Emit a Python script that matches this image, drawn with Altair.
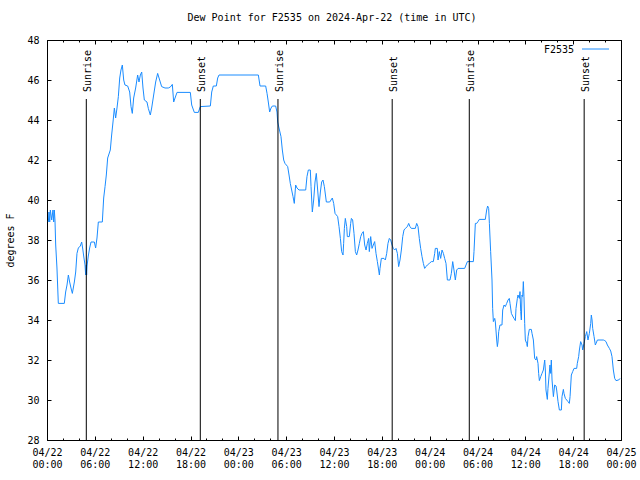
import altair as alt
import pandas as pd

# ---- data (hours since 2024-04-22 00:00 UTC, dew point in F) ----
hours = [0.17, 0.25, 0.34, 0.42, 0.59, 0.75, 0.84, 0.92, 1.0,
         1.09, 1.25, 1.42, 2.17, 2.34, 2.51, 2.68, 2.84, 3.01, 3.18, 3.43, 3.60, 3.76, 3.93, 4.18, 4.35, 4.47, 4.60, 4.77, 4.85, 4.93, 4.97, 5.02, 5.18, 5.35, 5.52, 5.94, 6.10, 6.27, 6.44, 6.94, 7.11, 7.28, 7.44, 7.61, 7.94, 8.11, 8.28, 8.45, 8.61, 8.78, 8.95, 9.12, 9.28, 9.45, 9.62, 9.78, 10.12, 10.37, 10.54, 10.70, 10.87, 11.12, 11.37, 11.54, 11.71, 11.88, 12.04, 12.21, 12.54, 12.71, 12.96, 13.13, 13.38, 13.63, 13.88, 14.13, 14.38, 14.80, 15.22, 15.47, 15.72, 15.89, 16.06, 16.31, 17.98, 18.15, 18.48, 18.98, 19.23,
         20.49, 20.66, 20.86, 21.24, 21.41, 21.58, 26.51, 26.72, 27.43, 27.60, 27.76, 27.93, 28.10, 28.27, 28.68, 28.85, 28.94, 29.10, 29.35, 29.52, 29.69, 29.85, 30.19, 30.36, 30.52, 30.69, 30.86, 31.02, 31.19, 31.36, 31.61, 32.45, 32.61, 32.78, 33.03, 33.12, 33.28, 33.45, 33.62, 33.78, 33.95, 34.12, 34.29, 34.45, 34.62, 34.79, 35.04, 35.46, 35.79, 35.96, 36.13, 36.46, 36.63, 36.80, 36.96, 37.13, 37.21, 37.30,
         37.42, 37.59, 37.67, 37.92, 38.09, 38.18, 38.34, 38.51, 38.68, 38.84, 39.01, 39.18, 39.35, 39.51, 39.68, 39.85, 40.02, 40.18, 40.35, 40.43, 40.60, 40.77, 40.93, 41.10, 41.27, 41.44, 41.60, 41.69, 41.77, 41.94, 42.27, 42.44, 42.61, 42.77, 42.94, 43.11, 43.28, 43.44, 43.61, 43.78, 43.95, 44.11, 44.28, 44.45, 44.62, 44.78, 44.95, 45.20, 45.37, 45.53, 45.70, 46.20, 46.37, 46.54, 46.70, 46.87, 47.04, 47.21, 47.37, 47.54, 47.71, 47.96, 48.21, 48.46, 48.63, 48.71, 48.96, 49.05, 49.21, 49.38, 49.55, 49.72, 49.88, 50.05, 50.22, 50.55, 50.72, 50.89, 51.05, 51.22, 51.39, 51.56, 52.39, 52.56, 52.73, 53.48, 53.56, 53.73, 53.90, 54.06, 54.23, 54.98, 55.15, 55.27, 55.40,
         55.49, 55.65, 55.82, 55.90, 55.99, 56.16, 56.24, 56.41, 56.49, 56.57, 56.66, 56.82, 57.07, 57.16, 57.33, 57.49, 57.66, 57.83, 57.99, 58.08, 58.25, 58.41, 58.58, 58.75, 58.83, 59.00, 59.08, 59.25, 59.33, 59.42, 59.50, 59.58, 59.67, 59.75, 59.83, 59.92, 60.00, 60.17, 60.25, 60.34, 60.50, 60.75, 60.84, 61.01, 61.17, 61.34, 61.42, 61.59, 61.67, 61.76, 61.93, 62.09, 62.26, 62.43, 62.51, 62.59, 62.76, 62.84, 62.93, 63.09, 63.18, 63.26, 63.35, 63.52, 63.68, 63.85, 63.93, 64.10, 64.27, 64.52, 64.60, 64.77, 64.85, 65.02, 65.19, 65.35, 65.52, 65.61, 65.77, 65.94, 66.11, 66.44, 66.52, 66.69, 66.78, 66.94, 67.11, 67.19, 67.36, 67.53, 67.70, 67.86, 68.03, 68.20, 68.28, 68.37, 68.45, 68.62, 68.78, 68.87, 69.04, 69.79, 69.96, 70.12, 70.29, 70.54, 70.71, 70.87, 71.04, 71.21, 71.37, 71.71, 71.88]

dewpt = [38.9, 39.4, 38.9, 39.5, 39.0, 39.5, 38.9, 39.5, 39.0,
         37.75, 36.6, 34.83, 34.83, 35.4, 35.75, 36.25, 35.9, 35.6, 35.33, 35.9, 36.4, 37.33, 37.6, 37.7, 37.9, 37.6, 37.2, 36.75, 36.25, 36.75, 36.25, 36.7, 37.2, 37.6, 37.9, 37.9, 37.6, 38.1, 38.9, 38.9, 40.1, 40.67, 41.25, 42.1, 42.5, 43.25, 43.9, 44.6, 44.1, 44.6, 45.17, 46.1, 46.5, 46.75, 46.0, 45.75, 45.7, 45.4, 44.67, 44.33, 45.1, 45.6, 46.25, 45.9, 46.25, 46.4, 45.6, 45.0, 44.9, 44.58, 44.25, 44.6, 45.25, 45.9, 46.33, 46.0, 45.67, 45.6, 45.6, 45.65, 45.78, 44.9, 45.1, 45.38, 45.38, 44.75, 44.38, 44.38, 44.67,
         44.7, 45.4, 45.7, 45.7, 46.1, 46.25, 46.25, 45.7, 45.7, 45.33, 44.9, 44.4, 44.6, 44.7, 44.7, 44.4, 43.9, 43.6, 43.17, 42.5, 42.0, 41.83, 41.67, 41.25, 40.83, 40.5, 40.17, 39.83, 40.75, 40.6, 40.5, 40.5, 41.17, 41.5, 41.5, 40.67, 39.4, 40.0, 40.9, 41.33, 40.5, 39.67, 40.4, 40.9, 41.0, 40.67, 39.9, 39.9, 40.1, 39.83, 39.33, 39.17, 38.67, 38.08, 37.42, 37.25, 37.83, 38.58,
         39.08, 38.67, 38.17, 38.17, 38.83, 39.08, 39.0, 38.33, 37.42, 37.25, 37.5, 37.83, 38.17, 38.33, 38.42, 37.75, 37.5, 37.83, 38.08, 37.42, 38.17, 37.58, 37.75, 37.92, 37.33, 36.92, 36.5, 36.25, 36.58, 37.08, 37.08, 37.0, 37.33, 37.83, 38.08, 38.0, 37.75, 37.58, 37.5, 37.58, 37.33, 36.67, 37.0, 37.5, 38.17, 38.5, 38.58, 38.67, 38.83, 38.67, 38.58, 38.58, 38.83, 38.67, 38.08, 37.58, 37.17, 36.83, 36.58, 36.67, 36.75, 36.83, 36.92, 36.92, 37.33, 37.58, 37.58, 37.0, 37.42, 37.08, 37.5, 37.33, 37.08, 36.83, 36.0, 36.0, 36.33, 36.92, 36.5, 36.0, 36.5, 36.58, 36.58, 36.75, 36.92, 36.92, 37.42, 38.83, 38.83, 38.92, 39.03, 39.03, 39.5, 39.7, 39.58,
         38.83, 37.42, 36.0, 34.58, 33.92, 34.08, 33.9, 33.0, 32.67, 32.9, 33.42, 33.75, 33.75, 34.5, 34.75, 34.67, 34.83, 35.0, 35.08, 34.83, 34.33, 34.2, 34.08, 33.97, 34.58, 35.08, 35.25, 35.08, 35.42, 34.42, 34.0, 35.25, 35.17, 35.92, 35.17, 33.83, 33.0, 32.83, 32.67, 33.17, 33.53, 33.53, 33.33, 33.0, 32.08, 32.0, 32.17, 31.83, 31.33, 30.97, 31.17, 31.33, 31.5, 32.0, 31.5, 30.5, 30.03, 30.58, 31.0, 31.75, 31.33, 32.0, 31.0, 30.17, 30.75, 30.7, 30.5, 29.92, 29.5, 29.5, 30.17, 30.53, 30.33, 30.08, 30.0, 29.92, 29.83, 30.17, 31.25, 31.42, 31.58, 31.58, 31.83, 32.17, 32.5, 32.92, 32.75, 32.5, 32.83, 33.17, 33.42, 33.0, 33.33, 33.83, 34.25, 34.0, 33.58, 33.17, 32.75, 32.83, 33.0, 33.0, 32.97, 32.92, 32.75, 32.58, 32.45, 32.17, 31.5, 31.08, 30.97, 31.0, 31.08]

sunrise = [4.93, 28.97, 52.97]
sunset = [19.23, 43.3, 67.38]
series_name = "F2535"
y_ticks = list(range(28, 49, 2))
x_major = list(range(0, 73, 6))
x_minor = list(range(0, 73, 2))

FONT = "DejaVu Sans Mono"
BLUE = "#1a8cff"

df = pd.DataFrame({"h": hours, "dp": dewpt, "series": series_name})
sun = pd.DataFrame({"h": sunrise + sunset,
                    "label": ["Sunrise"] * len(sunrise) + ["Sunset"] * len(sunset)})
leg = pd.DataFrame({"series": [series_name]})

xscale = alt.Scale(domain=[0, 72], nice=False, zero=False)
yscale = alt.Scale(domain=[28, 48], nice=False, zero=False)
cscale = alt.Scale(domain=[series_name], range=[BLUE])

label_expr = ("['04/' + (22 + floor(datum.value / 24)), "
              "(datum.value % 24 < 10 ? '0' : '') + (datum.value % 24) + ':00']")

common_axis = dict(domain=False, grid=False, title=None, tickColor="black", tickWidth=1)

line = alt.Chart(df).mark_line(strokeWidth=1).encode(
    x=alt.X("h:Q", scale=xscale,
            axis=alt.Axis(values=x_major, orient="bottom", offset=-4, tickSize=4,
                          labelExpr=label_expr, labelFont=FONT, labelFontSize=10,
                          labelColor="black", labelPadding=7, labelLineHeight=12,
                          labelBaseline="top", labelFlush=False, labelOverlap=False,
                          **common_axis)),
    y=alt.Y("dp:Q", scale=yscale,
            axis=alt.Axis(values=y_ticks, orient="left", offset=-4, tickSize=4,
                          labelFont=FONT, labelFontSize=10, labelColor="black",
                          labelPadding=8, domain=False, grid=False, tickColor="black",
                          title="degrees F", titleFont=FONT, titleFontSize=10,
                          titleFontWeight="normal", titleColor="black", titleAngle=270,
                          titleX=-41, titleY=200, titleAlign="center",
                          titleBaseline="middle")),
    color=alt.Color("series:N", scale=cscale, legend=None),
)

rules = alt.Chart(sun).mark_rule(color="black", strokeWidth=1).encode(
    x=alt.X("h:Q", scale=xscale,
            axis=alt.Axis(values=x_major, orient="top", offset=-4, tickSize=4,
                          labels=False, **common_axis)),
    y=alt.value(59),
    y2=alt.value(400),
)

texts = alt.Chart(sun).mark_text(angle=270, align="left", baseline="middle", dy=2,
                                 font=FONT, fontSize=10, color="black").encode(
    x=alt.X("h:Q", scale=xscale, axis=None),
    y=alt.value(52),
    text="label:N",
)

minor_bottom = alt.Chart(df).mark_point(opacity=0).encode(
    x=alt.X("h:Q", scale=xscale,
            axis=alt.Axis(values=x_minor, orient="bottom", offset=-2, tickSize=2,
                          labels=False, **common_axis)),
    y=alt.Y("dp:Q", scale=yscale,
            axis=alt.Axis(values=y_ticks, orient="right", offset=-4, tickSize=4,
                          labels=False, **common_axis)),
)

minor_top = alt.Chart(df).mark_point(opacity=0).encode(
    x=alt.X("h:Q", scale=xscale,
            axis=alt.Axis(values=x_minor, orient="top", offset=-2, tickSize=2,
                          labels=False, **common_axis)),
    y=alt.Y("dp:Q", scale=yscale, axis=None),
)

# legend: label followed by a short line sample (gnuplot style)
leg_text = alt.Chart(leg).mark_text(align="right", baseline="middle", font=FONT,
                                    fontSize=10, color="black").encode(
    x=alt.value(527), y=alt.value(10), text="series:N")
leg_line = alt.Chart(leg).mark_rule(strokeWidth=1).encode(
    x=alt.value(535), x2=alt.value(562), y=alt.value(9),
    color=alt.Color("series:N", scale=cscale, legend=None))

chart = alt.layer(line, rules, texts, minor_bottom, minor_top, leg_text, leg_line).resolve_axis(
    x="independent", y="independent"
).properties(
    width=574, height=400,
    autosize=alt.AutoSizeParams(type="none"),
    padding={"left": 47, "top": 40, "right": 19, "bottom": 40},
    background="white",
    title=alt.TitleParams("Dew Point for F2535 on 2024-Apr-22 (time in UTC)",
                          font=FONT, fontSize=10, fontWeight="normal", color="black",
                          anchor="middle", frame="group", offset=12, dx=-2),
).configure_view(stroke="black", strokeWidth=1)

chart.save("out.html", embed_options={"renderer": "svg", "actions": False})
